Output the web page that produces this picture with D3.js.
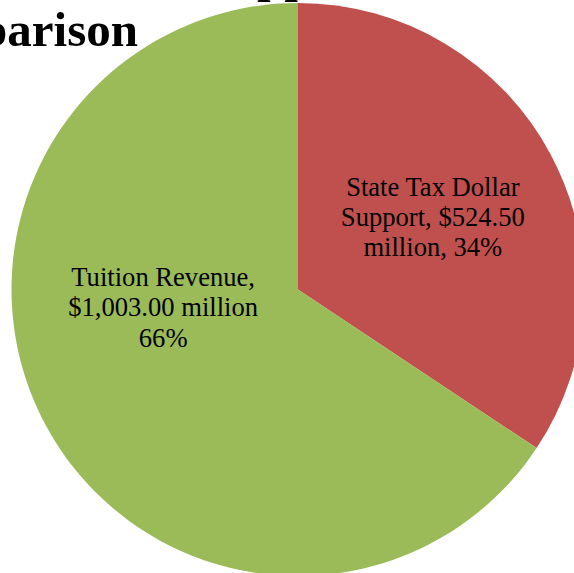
<!DOCTYPE html>
<html>
<head>
<meta charset="utf-8">
<script src="https://cdn.jsdelivr.net/npm/d3@7/dist/d3.min.js"></script>
<style>
  html, body { margin: 0; padding: 0; background: #fff; overflow: hidden; }
  svg { display: block; }
</style>
</head>
<body>
<svg id="chart" width="574" height="573"></svg>
<script>
// Revenue sources (millions of dollars)
const categories = ["State Tax Dollar Support", "Tuition Revenue"];
const values = [524.50, 1003.00];
const valueLabels = ["$524.50", "$1,003.00"];
const percentLabels = ["34%", "66%"];
const colors = ["#C0504D", "#9BBB59"];
const titleLines = ["State Tax Dollar Support", "Comparison"];

const width = 574, height = 573;
const cx = 298, cy = 289.5, radius = 286.5;

const svg = d3.select("#chart");

// Title (bold serif, largely beyond the top-left edge)
const title = svg.append("g")
  .attr("font-family", "'Liberation Serif', 'Times New Roman', serif")
  .attr("font-weight", "bold")
  .attr("font-size", 49)
  .attr("fill", "#000");
title.append("text")
  .attr("x", 374).attr("y", -8.5)
  .attr("text-anchor", "end")
  .text(titleLines[0]);
title.append("text")
  .attr("x", 138).attr("y", 46)
  .attr("text-anchor", "end")
  .text(titleLines[1]);

const data = categories.map((c, i) => ({ category: c, value: values[i], i }));

const pie = d3.pie()
  .value(d => d.value)
  .sort(null)
  .startAngle(0)
  .endAngle(2 * Math.PI);

const arc = d3.arc().innerRadius(0).outerRadius(radius);

const g = svg.append("g").attr("transform", `translate(${cx},${cy})`);
const arcs = pie(data);

g.selectAll("path.slice")
  .data(arcs)
  .join("path")
  .attr("class", "slice")
  .attr("d", arc)
  .attr("fill", d => colors[d.data.i]);

// Data labels placed along each slice's mid-angle
const labelArc = d3.arc().innerRadius(radius * 0.534).outerRadius(radius * 0.534);
const labelLines = [
  ["State Tax Dollar", `Support, ${valueLabels[0]}`, `million, ${percentLabels[0]}`],
  ["Tuition Revenue,", `${valueLabels[1]} million`, `${percentLabels[1]}`]
];
// Tuition label sits higher than its slice centroid
const labelShift = [[0, 0], [0, -54]];

const lineH = 30.3;
arcs.forEach(a => {
  const [x, y] = labelArc.centroid(a);
  const i = a.data.i;
  const t = g.append("text")
    .attr("font-family", "'Liberation Serif', 'Times New Roman', serif")
    .attr("font-size", 26.6)
    .attr("fill", "#000")
    .attr("text-anchor", "middle");
  labelLines[i].forEach((ln, k) => {
    t.append("tspan")
      .attr("x", x + labelShift[i][0])
      .attr("y", y + labelShift[i][1] + 8.7 + (k - 1) * lineH)
      .text(ln);
  });
});
</script>
</body>
</html>
